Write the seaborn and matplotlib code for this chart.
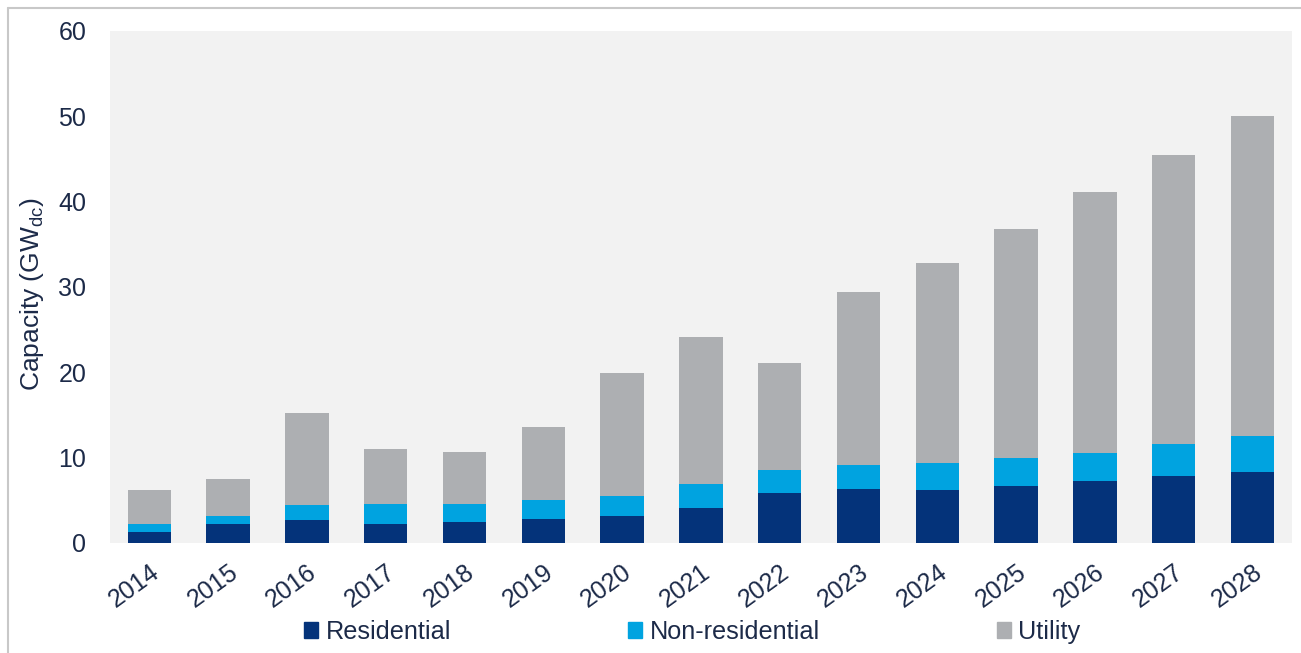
import numpy as np
import pandas as pd
import matplotlib
matplotlib.use("Agg")
import matplotlib.pyplot as plt
from matplotlib.lines import Line2D
from matplotlib.patches import Patch
import seaborn as sns

# valeurs (GWdc)
years = ['2014', '2015', '2016', '2017', '2018', '2019', '2020', '2021',
         '2022', '2023', '2024', '2025', '2026', '2027', '2028']
residential = [1.25, 2.2, 2.65, 2.2, 2.4, 2.8, 3.15, 4.15, 5.85, 6.35, 6.2, 6.65, 7.2, 7.8, 8.3]
non_residential = [1.0, 0.95, 1.75, 2.35, 2.15, 2.25, 2.4, 2.7, 2.75, 2.8, 3.2, 3.25, 3.35, 3.75, 4.2]
utility = [4.0, 4.4, 10.8, 6.5, 6.1, 8.55, 14.3, 17.25, 12.45, 20.2, 23.35, 26.85, 30.6, 33.9, 37.5]
yticks = [0, 10, 20, 30, 40, 50, 60]

c_res = '#04337a'
c_non = '#00a3e0'
c_uti = '#adafb2'
c_txt = '#1c2a48'

df = pd.DataFrame({'Year': years, 'Residential': residential,
                   'Non-residential': non_residential, 'Utility': utility})
df['top_res'] = df['Residential']
df['top_non'] = df['top_res'] + df['Non-residential']
df['top_uti'] = df['top_non'] + df['Utility']

sns.set_style('white')
plt.rcParams['font.family'] = ['Liberation Sans', 'DejaVu Sans']

fig = plt.figure(figsize=(13.01, 6.53), dpi=100)
ax = fig.add_axes([0.0845, 0.1685, 0.9085, 0.7845])
ax.set_facecolor('#f2f2f2')

# barres empilees : on dessine du total vers le bas
for col, c in [('top_uti', c_uti), ('top_non', c_non), ('top_res', c_res)]:
    sns.barplot(data=df, x='Year', y=col, color=c, width=0.55, saturation=1,
                linewidth=0, ax=ax)

ax.set_xlim(-0.5, len(years) - 0.5)
ax.set_ylim(0, 60)
ax.set_yticks(yticks)
ax.set_yticklabels([str(v) for v in yticks])
for s in ax.spines.values():
    s.set_visible(False)
ax.tick_params(axis='y', length=0, pad=17, labelsize=18, labelcolor=c_txt)
ax.tick_params(axis='x', length=0, pad=12, labelsize=18, labelcolor=c_txt)
plt.setp(ax.get_xticklabels(), rotation=36, ha='right', rotation_mode='anchor')
ax.set_xlabel('')
ax.set_ylabel(r'Capacity (GW$_\mathregular{dc}$)', fontsize=19, color=c_txt)
ax.yaxis.set_label_coords(-0.054, 0.486)

handles = [Patch(color=c_res, label='Residential'),
           Patch(color=c_non, label='Non-residential'),
           Patch(color=c_uti, label='Utility')]
fig.legend(handles=handles, loc='center', bbox_to_anchor=(0.532, 0.032), ncol=3,
           frameon=False, fontsize=18.2, handlelength=0.55, handleheight=0.6,
           handletextpad=0.3, columnspacing=7.0, labelcolor=c_txt)

# cadre gris de la capture
fig.add_artist(Line2D([0.006, 1.0], [0.988, 0.988], color='#c8c8c8', lw=1.5))
fig.add_artist(Line2D([0.006, 0.006], [0.0, 0.988], color='#c8c8c8', lw=1.5))

fig.savefig('out.png', dpi=100)
